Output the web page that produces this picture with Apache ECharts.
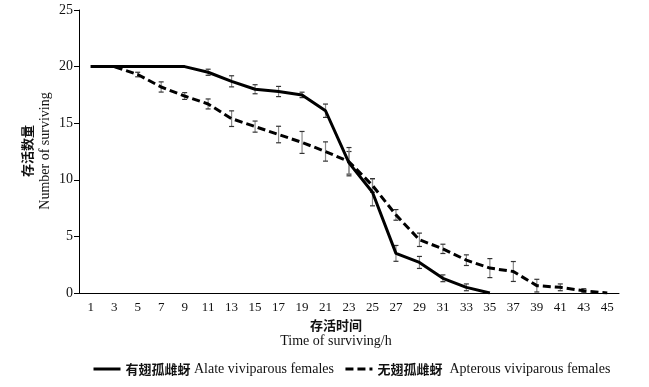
<!DOCTYPE html>
<html>
<head>
<meta charset="utf-8">
<script src="https://cdn.jsdelivr.net/npm/echarts@6/dist/echarts.min.js"></script>
<style>html,body{margin:0;padding:0;background:#fff;}#c{width:649px;height:387px;}</style>
</head>
<body>
<div id="c"></div>
<script>
var categories = ['1','3','5','7','9','11','13','15','17','19','21','23','25','27','29','31','33','35','37','39','41','43','45'];
var alate = [20,20,20,20,20,19.5,18.7,18.0,17.8,17.5,16.1,11.5,8.9,3.5,2.7,1.3,0.5,0];
var alateErr = [0,0,0,0,0,0.27,0.49,0.4,0.45,0.24,0.59,1.0,1.2,0.7,0.53,0.3,0.3,0];
var apterous = [20,20,19.3,18.2,17.4,16.7,15.4,14.7,14.0,13.3,12.5,11.6,9.5,6.9,4.7,3.9,2.9,2.2,1.9,0.65,0.5,0.2,0];
var apterousErr = [0,0,0.2,0.45,0.3,0.44,0.69,0.49,0.73,0.97,0.85,1.25,0.6,0.47,0.59,0.41,0.47,0.84,0.88,0.56,0.3,0.18,0];
var yTicks = [0,5,10,15,20,25];
var nameAlate = '有翅孤雌蚜 Alate viviparous females';
var nameApterous = '无翅孤雌蚜  Apterous viviparous females';

var serif = '"Liberation Serif","Noto Sans CJK SC",serif';

function errData(vals, errs) {
  var out = [];
  for (var i = 0; i < vals.length; i++) {
    if (errs[i] > 0) out.push([i, vals[i] - errs[i], vals[i] + errs[i]]);
  }
  return out;
}
function renderErr(params, api) {
  var x = api.value(0);
  var lo = api.coord([x, api.value(1)]);
  var hi = api.coord([x, api.value(2)]);
  var w = 2.5;
  return {
    type: 'group',
    children: [
      {type: 'line', shape: {x1: lo[0], y1: lo[1], x2: hi[0], y2: hi[1]}, style: {stroke: '#8a8a8a', lineWidth: 1.2}},
      {type: 'line', shape: {x1: lo[0]-w, y1: lo[1], x2: lo[0]+w, y2: lo[1]}, style: {stroke: '#333', lineWidth: 1.2}},
      {type: 'line', shape: {x1: hi[0]-w, y1: hi[1], x2: hi[0]+w, y2: hi[1]}, style: {stroke: '#333', lineWidth: 1.2}}
    ]
  };
}

var chart = echarts.init(document.getElementById('c'));
chart.setOption({
  animation: false,
  backgroundColor: '#fff',
  grid: {left: 79, right: 30, top: 10, bottom: 94, containLabel: false},
  legend: {
    data: [nameAlate, nameApterous],
    left: 87, top: 357,
    itemWidth: 27, itemHeight: 10, itemGap: 10,
    itemStyle: {opacity: 0},
    lineStyle: {width: 3},
    formatter: function (n) {
      var sp = n.indexOf(' ');
      return '{c|' + n.slice(0, sp) + '}{e|' + n.slice(sp) + '}';
    },
    textStyle: {
      color: '#111',
      rich: {
        c: {fontFamily: '"Noto Sans CJK SC"', fontSize: 13, fontWeight: 'bold', color: '#111'},
        e: {fontFamily: serif, fontSize: 14, color: '#111'}
      }
    }
  },
  xAxis: {
    type: 'category',
    data: categories,
    boundaryGap: true,
    axisLine: {lineStyle: {color: '#000', width: 1}},
    axisTick: {inside: true, length: 4, interval: 0, lineStyle: {color: '#000'}},
    axisLabel: {interval: 0, color: '#111', fontFamily: serif, fontSize: 13, margin: 8},
    splitLine: {show: false}
  },
  yAxis: {
    type: 'value',
    min: 0, max: 25, interval: 5,
    axisLine: {show: true, lineStyle: {color: '#000', width: 1}},
    axisTick: {show: true, inside: false, length: 5, lineStyle: {color: '#000'}},
    axisLabel: {color: '#111', fontFamily: serif, fontSize: 14, margin: 6,
      formatter: function (v) { return yTicks.indexOf(v) >= 0 ? String(v) : ''; }},
    splitLine: {show: false}
  },
  graphic: [
    {type: 'text', style: {text: '存活时间', font: 'bold 13px "Noto Sans CJK SC"', fill: '#111', align: 'center', verticalAlign: 'middle', x: 336, y: 325}},
    {type: 'text', style: {text: 'Time of surviving/h', font: '14px "Liberation Serif"', fill: '#111', align: 'center', verticalAlign: 'middle', x: 336, y: 341}},
    {type: 'text', x: 27, y: 151, rotation: Math.PI / 2, style: {text: '存活数量', font: 'bold 13px "Noto Sans CJK SC"', fill: '#111', align: 'center', verticalAlign: 'middle'}},
    {type: 'text', x: 45, y: 151, rotation: Math.PI / 2, style: {text: 'Number of surviving', font: '14px "Liberation Serif"', fill: '#111', align: 'center', verticalAlign: 'middle'}}
  ],
  series: [
    {
      name: nameAlate, type: 'line', data: alate, showSymbol: false, symbol: 'none',
      lineStyle: {color: '#000', width: 3}, itemStyle: {color: '#000'}, z: 3
    },
    {
      name: nameApterous, type: 'line', data: apterous, showSymbol: false, symbol: 'none',
      lineStyle: {color: '#000', width: 3, type: [8, 4]}, itemStyle: {color: '#000'}, z: 3
    },
    {type: 'custom', name: 'errA', renderItem: renderErr, data: errData(alate, alateErr), encode: {x: 0, y: [1, 2]}, z: 2},
    {type: 'custom', name: 'errB', renderItem: renderErr, data: errData(apterous, apterousErr), encode: {x: 0, y: [1, 2]}, z: 2}
  ]
});
</script>
</body>
</html>
